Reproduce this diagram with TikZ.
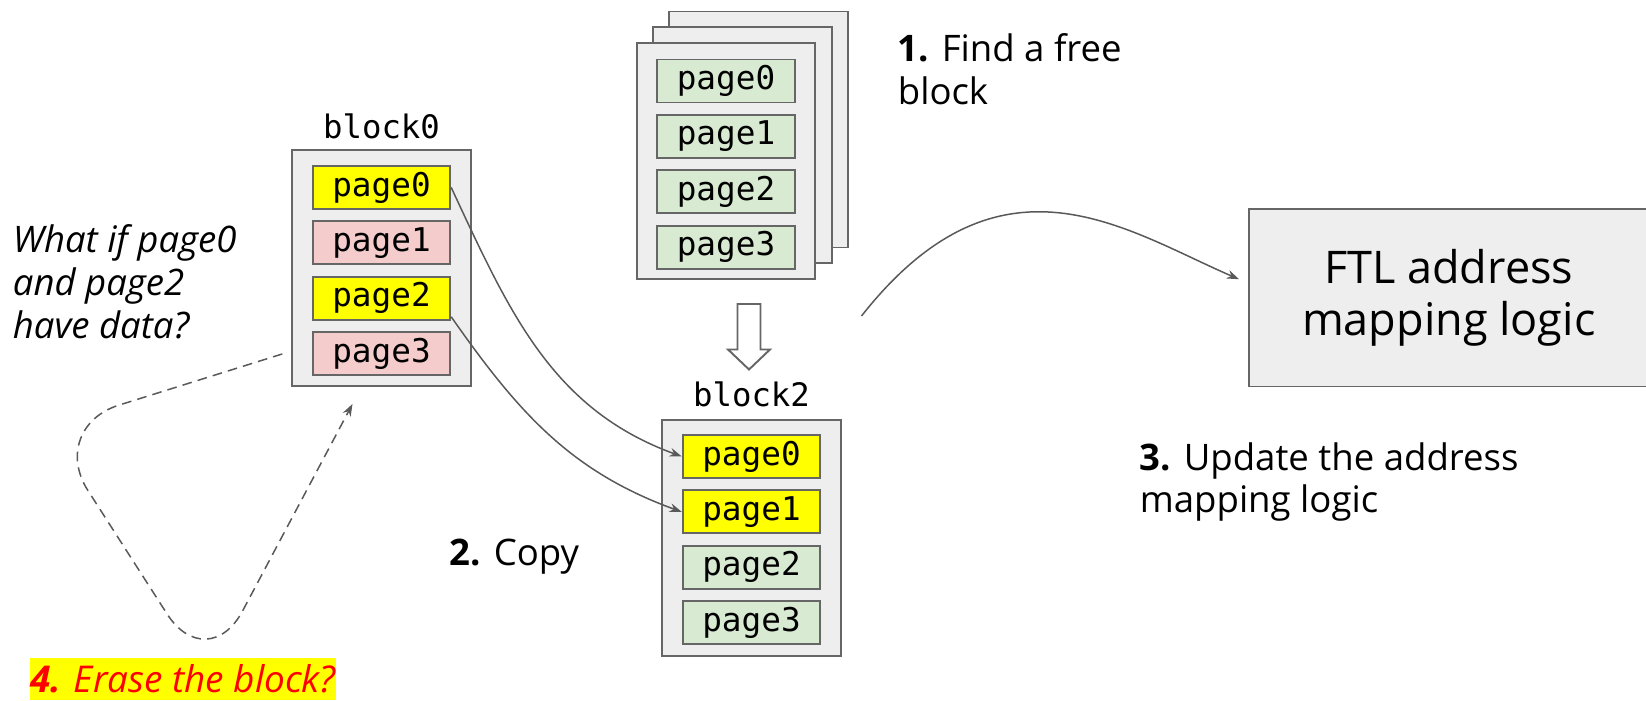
\documentclass[tikz,border=0pt]{standalone}
\usepackage{fontspec}
\setmainfont{Open Sans}
\setmonofont{DejaVu Sans Mono}
\usetikzlibrary{arrows.meta,positioning,calc}
\definecolor{blkFill}{HTML}{EEEEEE}
\definecolor{blkDraw}{HTML}{666666}
\definecolor{lineGray}{HTML}{595959}
\definecolor{pgUsed}{HTML}{FFFF00}
\definecolor{pgStale}{HTML}{F4CCCC}
\definecolor{pgFree}{HTML}{D9EAD3}
\definecolor{eraseRed}{HTML}{FF0000}

\begin{document}
\begin{tikzpicture}[
          blockBox/.style={rectangle, draw=blkDraw, fill=blkFill, line width=1.1pt, minimum width=3.57cm, minimum height=4.72cm},
          pageBox/.style={rectangle, draw=blkDraw, line width=1.1pt, minimum width=2.75cm, minimum height=0.86cm, inner sep=0pt, font=\fontsize{18.6}{18.6}\selectfont\ttfamily},
          pageUsed/.style={pageBox, fill=pgUsed},
          pageStale/.style={pageBox, fill=pgStale},
          pageFree/.style={pageBox, fill=pgFree},
          blockName/.style={font=\fontsize{18.4}{18.4}\selectfont\ttfamily},
          flow/.style={-{Stealth[length=7pt,width=5pt]}, draw=lineGray, line width=0.85pt},
          note/.style={font=\fontsize{20.8}{24.4}\selectfont, align=left, inner sep=0pt}
        ]
          \useasboundingbox (0,0) rectangle (32.92,14);

          % free blocks
          \node[blockBox] (fb2) at (15.17,11.41) {};
          \node[blockBox] (fb1) at (14.85,11.10) {};
          \node[blockBox] (fb0) at (14.52,10.78) {};
          \node[pageFree, below=0.33cm of fb0.north] (fp0) {page0};
          \node[pageFree, below=0.21cm of fp0] (fp1) {page1};
          \node[pageFree, below=0.21cm of fp1] (fp2) {page2};
          \node[pageFree, below=0.21cm of fp2] (fp3) {page3};

          % block0
          \node[blockBox] (b0) at (7.63,8.64) {};
          \node[blockName] (b0name) at ($(b0.north)+(0,0.46)$) {block0};
          \node[pageUsed, below=0.32cm of b0.north] (b0p0) {page0};
          \node[pageStale, below=0.21cm of b0p0] (b0p1) {page1};
          \node[pageUsed, below=0.21cm of b0p1] (b0p2) {page2};
          \node[pageStale, below=0.21cm of b0p2] (b0p3) {page3};

          % block2
          \node[blockBox] (b2) at (15.03,3.24) {};
          \node[blockName] (b2name) at ($(b2.north)+(0,0.5)$) {block2};
          \node[pageUsed, below=0.3cm of b2.north] (b2p0) {page0};
          \node[pageUsed, below=0.21cm of b2p0] (b2p1) {page1};
          \node[pageFree, below=0.21cm of b2p1] (b2p2) {page2};
          \node[pageFree, below=0.21cm of b2p2] (b2p3) {page3};

          % hollow down arrow
          \draw[draw=blkDraw, fill=white, line width=1.1pt] (14.75,7.92) -- (15.21,7.92) -- (15.21,7.01) -- (15.40,7.01)
            -- (14.98,6.61) -- (14.56,7.01) -- (14.75,7.01) -- cycle;

          % FTL
          \node[rectangle, draw=blkDraw, fill=blkFill, line width=1.1pt, minimum width=7.99cm, minimum height=3.55cm,
            font=\fontsize{25.6}{29.4}\selectfont, align=center] (ftl) at (28.975,8.045) {FTL address\\mapping logic};

          % copy
          \draw[flow] (b0p0.east) to[out=-65, in=160] (b2p0.west);
          \draw[flow] ([yshift=0.08cm]b0p2.south east) to[out=-55, in=160] (b2p1.west);

          % update
          \coordinate (ftlFrom) at (17.23,7.68);
          \draw[flow] (ftlFrom) .. controls (20.0,11.2) and (22.5,9.4) .. ([shift={(-0.18,0.37)}]ftl.west);

          % erase loop
          \coordinate (loopL) at (0.95,5.45);
          \coordinate (loopB) at (4.15,0.46);
          \draw[flow, dash pattern=on 5.5pt off 3.5pt, rounded corners=1.5cm] ([shift={(-0.18,0.66)}]b0.south west)
            -- (loopL) -- (loopB) -- ([shift={(-0.58,-0.34)}]b0.south);

          % labels
          \node[note, anchor=west] (whatif) at (0.25,8.37) {\itshape What if page0\\\itshape and page2\\\itshape have data?};
          \node[note, anchor=west] (find) at (17.95,12.62) {\textbf{1.} Find a free\\block};
          \node[note, anchor=west] (copy) at (8.99,2.86) {\textbf{2.} Copy};
          \node[note, anchor=west] (update) at (22.79,4.36) {\textbf{3.} Update the address\\mapping logic};
          \node[note, anchor=south west, fill=pgUsed, text=eraseRed, minimum height=0.84cm, font=\fontsize{21}{21}\selectfont\itshape]
            (erase) at (0.6,0) {\textbf{4.} Erase the block?};
        \end{tikzpicture}
\end{document}
